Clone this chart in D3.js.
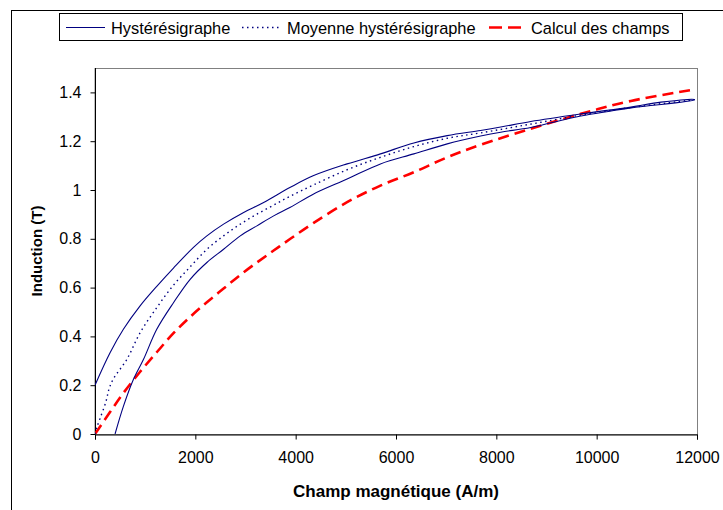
<!DOCTYPE html>
<html><head><meta charset="utf-8">
<script src="https://cdn.jsdelivr.net/npm/d3@7"></script>
<style>body{margin:0;background:#fff}svg{display:block;font-family:"Liberation Sans",Arial,sans-serif}</style>
</head><body>
<svg id="c" width="723" height="510"></svg>
<script>
// Hystérésigraphe: loop — lower (rising) branch then upper (returning) branch
const hystH = [400,566,765,965,1231,1564,1897,2230,2563,2896,3228,3561,3894,4359,5025,5690,6356,7021,7686,8087,8686,9685,10683,11947,
               11947,11282,10683,9685,8686,8087,7686,7021,6356,5690,5025,4359,3894,3362,2963,2563,2230,1963,1564,1231,899,566,300,0];
const hystB = [0,0.113,0.223,0.305,0.429,0.538,0.634,0.703,0.757,0.812,0.853,0.894,0.929,0.984,1.045,1.107,1.148,1.189,1.221,1.237,1.256,1.303,1.336,1.369,
               1.371,1.360,1.340,1.312,1.281,1.258,1.244,1.223,1.193,1.148,1.107,1.059,1.011,0.949,0.908,0.860,0.812,0.765,0.680,0.605,0.525,0.429,0.333,0.2];
// Moyenne hystérésigraphe
const meanH = [0,33,100,220,280,366,632,899,1231,1564,1897,2230,2563,2896,3228,3561,3894,4359,5025,5690,6356,7021,7686,8686,9685,10683,11947];
const meanB = [0,0.025,0.063,0.134,0.185,0.226,0.305,0.415,0.518,0.610,0.685,0.757,0.812,0.860,0.901,0.938,0.975,1.021,1.083,1.134,1.178,1.212,1.234,1.270,1.307,1.338,1.370];
// Calcul des champs
const calcH = [0,300,566,899,1231,1564,1897,2230,2563,2896,3228,3561,3894,4359,5025,5690,6356,7021,7686,8686,9685,10683,11947];
const calcB = [0,0.090,0.168,0.255,0.335,0.413,0.480,0.540,0.596,0.652,0.703,0.752,0.800,0.865,0.950,1.018,1.073,1.134,1.185,1.251,1.312,1.365,1.412];

const xTicks = [0,2000,4000,6000,8000,10000,12000];
const yTicks = [0,0.2,0.4,0.6,0.8,1,1.2,1.4];
const legendLabels = ["Hystérésigraphe","Moyenne hystérésigraphe","Calcul des champs"];
const xTitle = "Champ magnétique (A/m)";
const yTitle = "Induction (T)";

const svg = d3.select("#c");
const L=95, R=697, T=68, B=434;
const x = d3.scaleLinear().domain([0,12000]).range([L,R]);
const y = d3.scaleLinear().domain([0,1.5]).range([B,T]);

// outer chart border (left & top visible)
svg.append("rect").attr("x",11.5).attr("y",10.5).attr("width",900).attr("height",700)
  .attr("fill","none").attr("stroke","#000").attr("stroke-width",1);

// plot area border (gray)
svg.append("rect").attr("x",L).attr("y",T+0.5).attr("width",R-L+0.5).attr("height",B-T)
  .attr("fill","#fff").attr("stroke","#808080").attr("stroke-width",1);

svg.append("defs").append("clipPath").attr("id","clip")
  .append("rect").attr("x",L).attr("y",T).attr("width",R-L+1).attr("height",B-T);

// axes
const xAxis = d3.axisBottom(x).tickValues(xTicks).tickSize(5).tickPadding(12).tickFormat(d3.format("d"));
const gx = svg.append("g").attr("transform",`translate(0,${B+0.5})`).call(xAxis);
const yAxis = d3.axisLeft(y).tickValues(yTicks).tickSize(5).tickPadding(9).tickFormat(d=>String(d));
const gy = svg.append("g").attr("transform",`translate(${L+0.5},0)`).call(yAxis);
[gx,gy].forEach(g=>{
  g.select(".domain").attr("stroke","#000");
  g.selectAll(".tick line").attr("stroke","#000");
  g.selectAll(".tick text").attr("fill","#000").style("font-size","16px").style("font-family","'Liberation Sans',Arial,sans-serif");
});
gy.select(".domain").attr("d",`M0,${B}V${T}`);

// lines
const line = d3.line().x(d=>x(d[0])).y(d=>y(d[1])).curve(d3.curveCatmullRom.alpha(0.5));
const g = svg.append("g").attr("clip-path","url(#clip)");
const hyst = hystH.map((h,i)=>[h,hystB[i]]);
const mean = meanH.map((h,i)=>[h,meanB[i]]);
const calc = calcH.map((h,i)=>[h,calcB[i]]);
g.append("path").datum(calc).attr("d",line).attr("fill","none").attr("stroke","#FF0000").attr("stroke-width",2.6).attr("stroke-dasharray","11,6");
g.append("path").datum(hyst).attr("d",line).attr("fill","none").attr("stroke","#000080").attr("stroke-width",1.1);
g.append("path").datum(mean).attr("d",line).attr("fill","none").attr("stroke","#000080").attr("stroke-width",1.4).attr("stroke-dasharray","1.5,3.5");

// axis titles
svg.append("text").attr("x",396).attr("y",497).attr("text-anchor","middle")
  .style("font-size","17px").style("font-weight","bold").text(xTitle);
svg.append("text").attr("transform",`translate(42,${(T+B)/2}) rotate(-90)`).attr("text-anchor","middle")
  .style("font-size","15px").style("font-weight","bold").text(yTitle);

// legend
const lg = svg.append("g");
lg.append("rect").attr("x",59.5).attr("y",13.5).attr("width",623).attr("height",27)
  .attr("fill","#fff").attr("stroke","#000").attr("stroke-width",1);
const items = [
  {x1:66,x2:105,tx:111,stroke:"#000080",w:1.1,dash:null},
  {x1:242,x2:281,tx:287,stroke:"#000080",w:1.4,dash:"1.5,3.5"},
  {x1:489,x2:526,tx:531,stroke:"#FF0000",w:2.6,dash:"13,6"}
];
items.forEach((it,i)=>{
  lg.append("line").attr("x1",it.x1).attr("x2",it.x2).attr("y1",27.5).attr("y2",27.5)
    .attr("stroke",it.stroke).attr("stroke-width",it.w).attr("stroke-dasharray",it.dash);
  lg.append("text").attr("x",it.tx).attr("y",33.5).style("font-size","16.4px").text(legendLabels[i]);
});
</script>
</body></html>
